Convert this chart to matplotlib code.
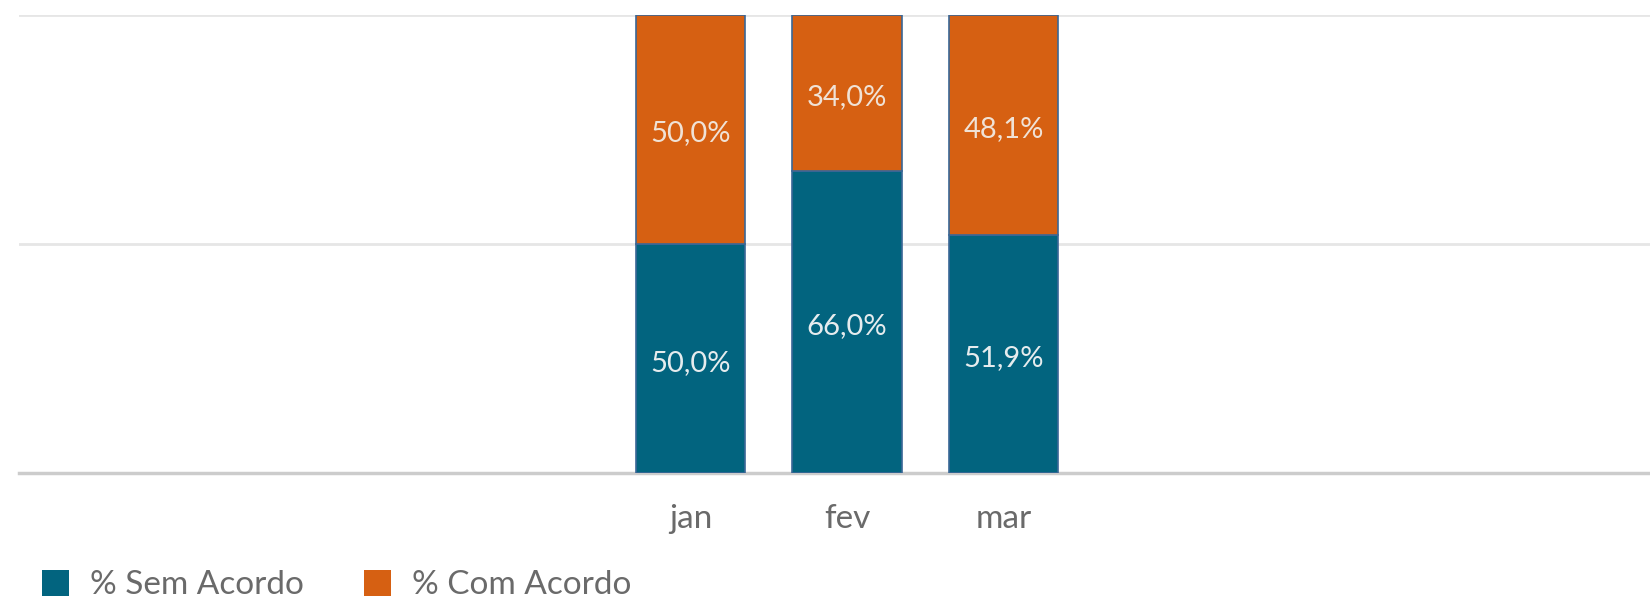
import numpy as np
import matplotlib.pyplot as plt
from matplotlib.patches import Patch

# Dados
meses = ["jan", "fev", "mar"]
sem_acordo = [0.500, 0.660, 0.519]
com_acordo = [0.500, 0.340, 0.481]
series = ["% Sem Acordo", "% Com Acordo"]

cor_sem = "#02647F"
cor_com = "#D66012"
cor_texto = "#6A6A6A"

plt.rcParams['font.family'] = ['Lato', 'DejaVu Sans']

fig = plt.figure(figsize=(16.5, 6.02), dpi=100)
ax = fig.add_axes([19 / 1650, 1 - 473 / 602, 1 - 19 / 1650, (473 - 14.7) / 602])

x = np.arange(len(meses))
ax.bar(x, sem_acordo, width=0.70, color=cor_sem, edgecolor="#3A6796", linewidth=1.2, zorder=3)
ax.bar(x, com_acordo, width=0.70, bottom=sem_acordo, color=cor_com,
       edgecolor="#3A6796", linewidth=1.2, zorder=3)

# Rótulos dentro das barras
for xi, s, c in zip(x, sem_acordo, com_acordo):
    ax.annotate(f"{s * 100:.1f}%".replace(".", ","), (xi, s / 2), xytext=(0, -3),
                textcoords="offset points", ha="center", va="center",
                color="#E6ECEE", fontsize=21, zorder=4)
    ax.annotate(f"{c * 100:.1f}%".replace(".", ","), (xi, s + c / 2), xytext=(0, -3),
                textcoords="offset points", ha="center", va="center",
                color="#F0E2D6", fontsize=21, zorder=4)

ax.set_xlim(-4.29, 6.13)
ax.set_ylim(0, 1.0)
ax.set_yticks([0.5, 1.0])
ax.yaxis.grid(True, color="#E6E6E6", linewidth=2)
ax.set_axisbelow(True)
ax.tick_params(axis="y", left=False, labelleft=False)
ax.set_xticks(x)
ax.set_xticklabels(meses, fontsize=24, color=cor_texto)
ax.tick_params(axis="x", length=0, pad=22)

for lado in ["left", "right", "top"]:
    ax.spines[lado].set_visible(False)
ax.spines["bottom"].set_color("#CCCCCC")
ax.spines["bottom"].set_linewidth(2.5)

handles = [Patch(facecolor=cor_sem, label=series[0]), Patch(facecolor=cor_com, label=series[1])]
fig.legend(handles=handles, loc="center left", bbox_to_anchor=(42 / 1650, 1 - 585 / 602), ncol=2,
           frameon=False, fontsize=24, labelcolor=cor_texto, handlelength=0.81,
           handleheight=0.81, handletextpad=0.63, columnspacing=1.8,
           borderpad=0, borderaxespad=0)

fig.savefig("out.png", dpi=100)
